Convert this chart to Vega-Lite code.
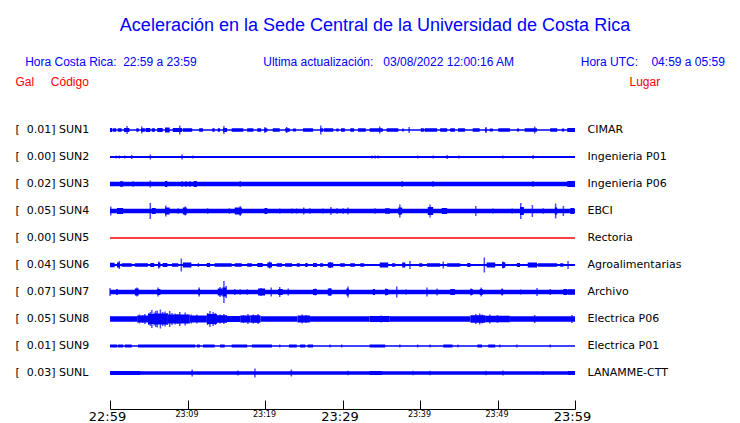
{
  "$schema": "https://vega.github.io/schema/vega-lite/v6.json",
  "width": 465,
  "height": 315,
  "autosize": {"type": "none"},
  "padding": {"left": 110, "top": 94, "right": 165, "bottom": 14},
  "background": "white",
  "config": {"view": {"stroke": null}, "font": "Liberation Sans"},
  "title": {
    "text": "Aceleración en la Sede Central de la Universidad de Costa Rica",
    "subtitle": "Hora Costa Rica:\u00a0\u00a022:59 a 23:59\u00a0\u00a0\u00a0\u00a0\u00a0\u00a0\u00a0\u00a0\u00a0\u00a0\u00a0\u00a0\u00a0\u00a0\u00a0\u00a0\u00a0\u00a0\u00a0\u00a0Ultima actualización:\u00a0\u00a0\u00a003/08/2022 12:00:16 AM\u00a0\u00a0\u00a0\u00a0\u00a0\u00a0\u00a0\u00a0\u00a0\u00a0\u00a0\u00a0\u00a0\u00a0\u00a0\u00a0\u00a0\u00a0\u00a0\u00a0Hora UTC:\u00a0\u00a0\u00a0\u00a004:59 a 05:59\u00a0\u00a0\u00a0\u00a0",
    "anchor": "middle",
    "frame": "group",
    "dx": 32.5,
    "offset": 7,
    "font": "Liberation Sans",
    "fontSize": 18,
    "fontWeight": "normal",
    "color": "#0000ff",
    "subtitleFont": "Liberation Sans",
    "subtitleFontSize": 12,
    "subtitleColor": "#0000ff",
    "subtitlePadding": 22
  },
  "datasets": {
    "bands": [
      {"s":"SUN1","t0":0,"t1":60,"a":1.5},{"s":"SUN1","t0":0,"t1":0.3,"a":4},{"s":"SUN1","t0":0.4,"t1":0.8,"a":3.5},{"s":"SUN1","t0":1.0,"t1":1.5,"a":3.5},{"s":"SUN1","t0":1.8,"t1":2.5,"a":4},{"s":"SUN1","t0":3.4,"t1":3.7,"a":3.5},{"s":"SUN1","t0":4.0,"t1":4.5,"a":3.5},{"s":"SUN1","t0":4.6,"t1":5.2,"a":4},{"s":"SUN1","t0":5.4,"t1":5.8,"a":3.5},{"s":"SUN1","t0":6.1,"t1":6.8,"a":4},{"s":"SUN1","t0":7.1,"t1":7.7,"a":5},{"s":"SUN1","t0":8.1,"t1":9.3,"a":4},{"s":"SUN1","t0":9.4,"t1":10.6,"a":3.5},{"s":"SUN1","t0":11.5,"t1":12.0,"a":3.5},{"s":"SUN1","t0":13.2,"t1":13.5,"a":3.5},{"s":"SUN1","t0":13.9,"t1":14.2,"a":3.5},{"s":"SUN1","t0":14.6,"t1":15.1,"a":4},{"s":"SUN1","t0":15.7,"t1":17.2,"a":3.5},{"s":"SUN1","t0":17.7,"t1":18.5,"a":3.5},{"s":"SUN1","t0":19.0,"t1":19.5,"a":3.5},{"s":"SUN1","t0":19.9,"t1":20.3,"a":3.5},{"s":"SUN1","t0":21.0,"t1":21.9,"a":3.5},{"s":"SUN1","t0":22.6,"t1":23.2,"a":3.5},{"s":"SUN1","t0":23.6,"t1":24.0,"a":3},{"s":"SUN1","t0":24.9,"t1":26.2,"a":3.5},{"s":"SUN1","t0":27.1,"t1":27.5,"a":3.5},{"s":"SUN1","t0":27.6,"t1":28.8,"a":3.5},{"s":"SUN1","t0":29.2,"t1":29.5,"a":3},{"s":"SUN1","t0":29.8,"t1":30.3,"a":3.5},{"s":"SUN1","t0":31.0,"t1":31.5,"a":3.5},{"s":"SUN1","t0":32.0,"t1":33.0,"a":3.5},{"s":"SUN1","t0":33.5,"t1":35.2,"a":3.5},{"s":"SUN1","t0":35.7,"t1":37.2,"a":3.5},{"s":"SUN1","t0":37.7,"t1":37.9,"a":3},{"s":"SUN1","t0":40.1,"t1":40.5,"a":3.5},{"s":"SUN1","t0":40.6,"t1":42.2,"a":3.5},{"s":"SUN1","t0":42.6,"t1":43.5,"a":3.5},{"s":"SUN1","t0":43.9,"t1":44.5,"a":3.5},{"s":"SUN1","t0":44.9,"t1":45.8,"a":3.5},{"s":"SUN1","t0":46.8,"t1":47.7,"a":3.5},{"s":"SUN1","t0":48.4,"t1":48.6,"a":3.5},{"s":"SUN1","t0":49.0,"t1":49.4,"a":3},{"s":"SUN1","t0":50.1,"t1":51.6,"a":3.5},{"s":"SUN1","t0":52.5,"t1":52.8,"a":3},{"s":"SUN1","t0":53.5,"t1":55.1,"a":3.5},{"s":"SUN1","t0":56.8,"t1":57.7,"a":3.5},{"s":"SUN1","t0":58.3,"t1":58.6,"a":3},{"s":"SUN1","t0":59.0,"t1":60,"a":4},
      {"s":"SUN2","t0":0,"t1":60,"a":2},
      {"s":"SUN3","t0":0,"t1":60,"a":4.5},{"s":"SUN3","t0":1.3,"t1":1.7,"a":5.5},{"s":"SUN3","t0":7.1,"t1":7.4,"a":6},{"s":"SUN3","t0":10.8,"t1":11.2,"a":6},{"s":"SUN3","t0":59.0,"t1":60,"a":6},
      {"s":"SUN4","t0":0,"t1":60,"a":4.5},{"s":"SUN4","t0":0.9,"t1":1.7,"a":6},{"s":"SUN4","t0":5.4,"t1":5.9,"a":6},{"s":"SUN4","t0":7.1,"t1":7.7,"a":7},{"s":"SUN4","t0":9.4,"t1":9.9,"a":7},{"s":"SUN4","t0":16.1,"t1":17.0,"a":7},{"s":"SUN4","t0":20.0,"t1":20.3,"a":6},{"s":"SUN4","t0":35.5,"t1":36.1,"a":5.5},{"s":"SUN4","t0":37.2,"t1":37.7,"a":7},{"s":"SUN4","t0":41.0,"t1":41.7,"a":8},{"s":"SUN4","t0":42.8,"t1":43.5,"a":6},{"s":"SUN4","t0":52.9,"t1":53.4,"a":8},{"s":"SUN4","t0":57.4,"t1":57.7,"a":7},{"s":"SUN4","t0":59.4,"t1":59.9,"a":6},
      {"s":"SUN5","t0":0,"t1":60,"a":1.5},
      {"s":"SUN6","t0":0,"t1":60,"a":2},{"s":"SUN6","t0":0,"t1":0.6,"a":4.5},{"s":"SUN6","t0":0.9,"t1":1.3,"a":5},{"s":"SUN6","t0":1.5,"t1":2.8,"a":3.5},{"s":"SUN6","t0":3.2,"t1":4.9,"a":3.5},{"s":"SUN6","t0":5.2,"t1":5.7,"a":4},{"s":"SUN6","t0":6.2,"t1":6.5,"a":5},{"s":"SUN6","t0":6.8,"t1":7.4,"a":4},{"s":"SUN6","t0":8.0,"t1":8.8,"a":3.5},{"s":"SUN6","t0":9.4,"t1":10.5,"a":5},{"s":"SUN6","t0":12.5,"t1":12.9,"a":4},{"s":"SUN6","t0":13.5,"t1":15.7,"a":3.5},{"s":"SUN6","t0":16.1,"t1":17.0,"a":3.5},{"s":"SUN6","t0":17.7,"t1":18.3,"a":3.5},{"s":"SUN6","t0":19.0,"t1":19.7,"a":4},{"s":"SUN6","t0":20.3,"t1":20.9,"a":5},{"s":"SUN6","t0":21.5,"t1":22.2,"a":3.5},{"s":"SUN6","t0":22.6,"t1":23.5,"a":3.5},{"s":"SUN6","t0":24.1,"t1":24.5,"a":3.5},{"s":"SUN6","t0":25.2,"t1":25.5,"a":4},{"s":"SUN6","t0":26.2,"t1":26.7,"a":4},{"s":"SUN6","t0":27.1,"t1":27.5,"a":3.5},{"s":"SUN6","t0":28.1,"t1":28.8,"a":5},{"s":"SUN6","t0":29.7,"t1":30.3,"a":3.5},{"s":"SUN6","t0":31.0,"t1":31.6,"a":3.5},{"s":"SUN6","t0":32.3,"t1":32.8,"a":3.5},{"s":"SUN6","t0":34.8,"t1":35.9,"a":5},{"s":"SUN6","t0":36.4,"t1":36.8,"a":3.5},{"s":"SUN6","t0":37.7,"t1":38.1,"a":5},{"s":"SUN6","t0":39.9,"t1":40.3,"a":3.5},{"s":"SUN6","t0":40.9,"t1":42.6,"a":3.5},{"s":"SUN6","t0":43.5,"t1":45.2,"a":3.5},{"s":"SUN6","t0":46.1,"t1":46.5,"a":4},{"s":"SUN6","t0":48.6,"t1":49.7,"a":5},{"s":"SUN6","t0":50.6,"t1":51.0,"a":5.5},{"s":"SUN6","t0":52.5,"t1":52.9,"a":4},{"s":"SUN6","t0":53.9,"t1":55.1,"a":5},{"s":"SUN6","t0":55.2,"t1":57.7,"a":3.5},{"s":"SUN6","t0":58.1,"t1":58.5,"a":3.5},
      {"s":"SUN7","t0":0,"t1":60,"a":4.5},{"s":"SUN7","t0":0.8,"t1":1.0,"a":6},{"s":"SUN7","t0":3.2,"t1":3.7,"a":7},{"s":"SUN7","t0":6.1,"t1":6.5,"a":6},{"s":"SUN7","t0":11.4,"t1":11.6,"a":6},{"s":"SUN7","t0":13.9,"t1":14.5,"a":7},{"s":"SUN7","t0":14.5,"t1":15.0,"a":9},{"s":"SUN7","t0":19.1,"t1":20.0,"a":7},{"s":"SUN7","t0":21.7,"t1":22.3,"a":6},{"s":"SUN7","t0":26.2,"t1":26.7,"a":6},{"s":"SUN7","t0":28.1,"t1":28.6,"a":7},{"s":"SUN7","t0":30.5,"t1":30.8,"a":7},{"s":"SUN7","t0":33.9,"t1":34.2,"a":6},{"s":"SUN7","t0":35.5,"t1":35.9,"a":6},{"s":"SUN7","t0":43.9,"t1":44.5,"a":6},{"s":"SUN7","t0":46.5,"t1":46.8,"a":6},{"s":"SUN7","t0":47.7,"t1":48.1,"a":6},{"s":"SUN7","t0":50.5,"t1":50.7,"a":6},{"s":"SUN7","t0":58.5,"t1":59.0,"a":6},{"s":"SUN7","t0":59.1,"t1":60,"a":5.5},
      {"s":"SUN8","t0":0,"t1":3.5,"a":5.5},{"s":"SUN8","t0":3.5,"t1":4.9,"a":7},{"s":"SUN8","t0":4.9,"t1":5.8,"a":10},{"s":"SUN8","t0":5.8,"t1":7.4,"a":11},{"s":"SUN8","t0":7.4,"t1":10.3,"a":9},{"s":"SUN8","t0":10.3,"t1":12.5,"a":7},{"s":"SUN8","t0":12.5,"t1":13.8,"a":10},{"s":"SUN8","t0":13.8,"t1":15.1,"a":7.5},{"s":"SUN8","t0":15.1,"t1":16.8,"a":6},{"s":"SUN8","t0":16.8,"t1":18.1,"a":7},{"s":"SUN8","t0":18.1,"t1":19.4,"a":7.5},{"s":"SUN8","t0":19.4,"t1":24.2,"a":5.5},{"s":"SUN8","t0":24.2,"t1":25.8,"a":7},{"s":"SUN8","t0":25.8,"t1":33.5,"a":5.5},{"s":"SUN8","t0":33.5,"t1":36.1,"a":6},{"s":"SUN8","t0":36.1,"t1":46.5,"a":5.5},{"s":"SUN8","t0":46.5,"t1":48.4,"a":7.5},{"s":"SUN8","t0":48.4,"t1":51.6,"a":6.5},{"s":"SUN8","t0":51.6,"t1":60,"a":5.5},
      {"s":"SUN9","t0":0,"t1":60,"a":1.5},{"s":"SUN9","t0":0,"t1":0.9,"a":3},{"s":"SUN9","t0":1.0,"t1":1.7,"a":3},{"s":"SUN9","t0":1.9,"t1":2.8,"a":3},{"s":"SUN9","t0":3.6,"t1":11.0,"a":3},{"s":"SUN9","t0":11.2,"t1":11.6,"a":3},{"s":"SUN9","t0":12.0,"t1":13.5,"a":3},{"s":"SUN9","t0":14.2,"t1":14.8,"a":3},{"s":"SUN9","t0":15.7,"t1":17.7,"a":3},{"s":"SUN9","t0":18.3,"t1":20.9,"a":3},{"s":"SUN9","t0":23.1,"t1":24.1,"a":3},{"s":"SUN9","t0":24.5,"t1":25.2,"a":3},{"s":"SUN9","t0":25.5,"t1":26.2,"a":3},{"s":"SUN9","t0":33.5,"t1":35.5,"a":3},{"s":"SUN9","t0":43.0,"t1":44.2,"a":3},{"s":"SUN9","t0":47.4,"t1":48.0,"a":3},{"s":"SUN9","t0":48.8,"t1":49.7,"a":3},
      {"s":"SUNL","t0":0,"t1":60,"a":3.5},{"s":"SUNL","t0":0,"t1":3.9,"a":4},{"s":"SUNL","t0":33.5,"t1":35.1,"a":4},{"s":"SUNL","t0":59.1,"t1":60,"a":4}
    ],
    "spikes": [
      {"s":"SUN1","t":2.2,"a":8},{"s":"SUN1","t":4.1,"a":7},{"s":"SUN1","t":9.0,"a":9},{"s":"SUN1","t":14.7,"a":8},{"s":"SUN1","t":20.0,"a":6},{"s":"SUN1","t":22.8,"a":6},{"s":"SUN1","t":27.2,"a":9},{"s":"SUN1","t":34.8,"a":7},{"s":"SUN1","t":38.6,"a":6},{"s":"SUN1","t":48.5,"a":6},{"s":"SUN1","t":54.8,"a":7},
      {"s":"SUN2","t":0.8,"a":3},{"s":"SUN2","t":1.2,"a":3},{"s":"SUN2","t":1.9,"a":3},{"s":"SUN2","t":2.8,"a":4},{"s":"SUN2","t":5.2,"a":5},{"s":"SUN2","t":9.3,"a":5},{"s":"SUN2","t":10.7,"a":3},{"s":"SUN2","t":33.8,"a":3},{"s":"SUN2","t":34.2,"a":3},{"s":"SUN2","t":34.6,"a":3},{"s":"SUN2","t":39.7,"a":3},{"s":"SUN2","t":41.7,"a":3},{"s":"SUN2","t":43.5,"a":4},{"s":"SUN2","t":45.0,"a":3},{"s":"SUN2","t":50.7,"a":3},{"s":"SUN2","t":54.6,"a":4},
      {"s":"SUN3","t":3.0,"a":5.5},{"s":"SUN3","t":5.2,"a":7},{"s":"SUN3","t":9.3,"a":6},{"s":"SUN3","t":9.8,"a":6},{"s":"SUN3","t":10.3,"a":6},{"s":"SUN3","t":16.8,"a":6},{"s":"SUN3","t":37.7,"a":6},{"s":"SUN3","t":41.7,"a":6},{"s":"SUN3","t":54.6,"a":6},
      {"s":"SUN4","t":0.1,"a":9},{"s":"SUN4","t":5.2,"a":16},{"s":"SUN4","t":7.2,"a":11},{"s":"SUN4","t":8.8,"a":5.5},{"s":"SUN4","t":9.7,"a":9},{"s":"SUN4","t":12.6,"a":5.5},{"s":"SUN4","t":15.4,"a":5.5},{"s":"SUN4","t":16.8,"a":10},{"s":"SUN4","t":20.0,"a":6},{"s":"SUN4","t":21.9,"a":5},{"s":"SUN4","t":23.5,"a":5},{"s":"SUN4","t":24.1,"a":5},{"s":"SUN4","t":25.0,"a":7},{"s":"SUN4","t":25.8,"a":5.5},{"s":"SUN4","t":27.5,"a":5},{"s":"SUN4","t":28.5,"a":8},{"s":"SUN4","t":29.3,"a":5.5},{"s":"SUN4","t":30.1,"a":5.5},{"s":"SUN4","t":30.7,"a":7},{"s":"SUN4","t":34.2,"a":5.5},{"s":"SUN4","t":37.4,"a":13},{"s":"SUN4","t":41.3,"a":13},{"s":"SUN4","t":47.2,"a":10},{"s":"SUN4","t":49.4,"a":5},{"s":"SUN4","t":51.9,"a":5},{"s":"SUN4","t":53.0,"a":16},{"s":"SUN4","t":54.5,"a":12},{"s":"SUN4","t":55.9,"a":5.5},{"s":"SUN4","t":57.5,"a":15},{"s":"SUN4","t":58.5,"a":10},
      {"s":"SUN6","t":1.2,"a":8},{"s":"SUN6","t":6.3,"a":7},{"s":"SUN6","t":9.2,"a":13},{"s":"SUN6","t":11.4,"a":4},{"s":"SUN6","t":20.6,"a":7},{"s":"SUN6","t":28.4,"a":6},{"s":"SUN6","t":38.7,"a":8},{"s":"SUN6","t":43.0,"a":7},{"s":"SUN6","t":48.3,"a":15},{"s":"SUN6","t":50.7,"a":7},{"s":"SUN6","t":59.1,"a":8},
      {"s":"SUN7","t":0,"a":8},{"s":"SUN7","t":3.5,"a":9},{"s":"SUN7","t":6.2,"a":9},{"s":"SUN7","t":11.5,"a":9},{"s":"SUN7","t":14.2,"a":10},{"s":"SUN7","t":14.7,"a":22},{"s":"SUN7","t":15.0,"a":12},{"s":"SUN7","t":16.1,"a":6},{"s":"SUN7","t":16.8,"a":5.5},{"s":"SUN7","t":17.7,"a":5.5},{"s":"SUN7","t":19.5,"a":8},{"s":"SUN7","t":20.8,"a":9},{"s":"SUN7","t":21.9,"a":10},{"s":"SUN7","t":23.0,"a":7},{"s":"SUN7","t":26.5,"a":7},{"s":"SUN7","t":28.4,"a":8},{"s":"SUN7","t":30.7,"a":11},{"s":"SUN7","t":35.6,"a":7},{"s":"SUN7","t":37.0,"a":11},{"s":"SUN7","t":38.2,"a":5},{"s":"SUN7","t":40.9,"a":9},{"s":"SUN7","t":42.2,"a":7},{"s":"SUN7","t":46.6,"a":7},{"s":"SUN7","t":47.9,"a":9},{"s":"SUN7","t":50.6,"a":7},{"s":"SUN7","t":53.0,"a":5},{"s":"SUN7","t":55.1,"a":8},{"s":"SUN7","t":56.8,"a":6},
      {"s":"SUN8","t":3.8,"a":9},{"s":"SUN8","t":4.2,"a":8},{"s":"SUN8","t":4.5,"a":10},{"s":"SUN8","t":5.0,"a":12},{"s":"SUN8","t":5.2,"a":14},{"s":"SUN8","t":5.4,"a":18},{"s":"SUN8","t":5.7,"a":13},{"s":"SUN8","t":5.9,"a":16},{"s":"SUN8","t":6.1,"a":17},{"s":"SUN8","t":6.5,"a":19},{"s":"SUN8","t":6.8,"a":14},{"s":"SUN8","t":7.1,"a":15},{"s":"SUN8","t":7.4,"a":12},{"s":"SUN8","t":7.7,"a":16},{"s":"SUN8","t":8.0,"a":12},{"s":"SUN8","t":8.4,"a":11},{"s":"SUN8","t":8.7,"a":10},{"s":"SUN8","t":9.0,"a":14},{"s":"SUN8","t":9.7,"a":13},{"s":"SUN8","t":10.0,"a":9},{"s":"SUN8","t":10.5,"a":9},{"s":"SUN8","t":11.2,"a":9},{"s":"SUN8","t":12.6,"a":12},{"s":"SUN8","t":12.9,"a":16},{"s":"SUN8","t":13.3,"a":14},{"s":"SUN8","t":13.6,"a":12},{"s":"SUN8","t":14.2,"a":9},{"s":"SUN8","t":14.7,"a":10},{"s":"SUN8","t":17.2,"a":8},{"s":"SUN8","t":17.8,"a":10},{"s":"SUN8","t":18.5,"a":9},{"s":"SUN8","t":19.1,"a":10},{"s":"SUN8","t":24.8,"a":9},{"s":"SUN8","t":25.3,"a":8},{"s":"SUN8","t":35.0,"a":7},{"s":"SUN8","t":47.2,"a":10},{"s":"SUN8","t":47.7,"a":11},{"s":"SUN8","t":48.0,"a":9},{"s":"SUN8","t":49.0,"a":9},{"s":"SUN8","t":50.0,"a":8},{"s":"SUN8","t":54.8,"a":8},{"s":"SUN8","t":59.6,"a":8},
      {"s":"SUN9","t":21.9,"a":3},{"s":"SUN9","t":28.4,"a":3},{"s":"SUN9","t":29.9,"a":3},{"s":"SUN9","t":37.4,"a":3},{"s":"SUN9","t":39.7,"a":3},{"s":"SUN9","t":41.3,"a":3},{"s":"SUN9","t":44.9,"a":3},{"s":"SUN9","t":50.3,"a":3},{"s":"SUN9","t":52.5,"a":3},{"s":"SUN9","t":56.8,"a":3},
      {"s":"SUNL","t":10.6,"a":7},{"s":"SUNL","t":16.5,"a":5},{"s":"SUNL","t":18.7,"a":9},{"s":"SUNL","t":23.4,"a":7},{"s":"SUNL","t":30.7,"a":4.5},{"s":"SUNL","t":39.1,"a":4.5},{"s":"SUNL","t":41.3,"a":4.5},{"s":"SUNL","t":48.5,"a":4.5},{"s":"SUNL","t":50.7,"a":5},{"s":"SUNL","t":55.9,"a":4}
    ]
  },
  "layer": [
    {
      "data": {"name": "bands"},
      "mark": {"type": "bar"},
      "encoding": {
        "x": {
          "field": "t0", "type": "quantitative",
          "scale": {"domain": [0, 60], "nice": false, "zero": false},
          "axis": {
            "title": null, "grid": false,
            "values": [0, 5, 10, 15, 20, 25, 30, 35, 40, 45, 50, 55, 60],
            "domain": true, "domainColor": "black", "domainWidth": 1,
            "ticks": true, "tickSize": -9, "tickColor": "black", "tickWidth": 1,
            "labelExpr": "datum.value % 10 != 0 ? '' : floor((1379 + datum.value) / 60) + ':' + ((1379 + datum.value) % 60 < 10 ? '0' : '') + ((1379 + datum.value) % 60)",
            "labelFont": "DejaVu Sans",
            "labelFontSize": {"condition": {"test": "datum.value % 30 == 0", "value": 13}, "value": 8},
            "labelOffset": {"condition": {"test": "datum.value % 30 == 0", "value": -3}, "value": -1},
            "labelColor": "black", "labelPadding": 10, "labelBaseline": "top",
            "labelOverlap": false, "labelFlush": false, "labelBound": false
          }
        },
        "x2": {"field": "t1"},
        "y": {
          "field": "s", "type": "nominal",
          "scale": {"type": "band", "domain": ["SUN1","SUN2","SUN3","SUN4","SUN5","SUN6","SUN7","SUN8","SUN9","SUNL"], "paddingInner": 0, "paddingOuter": 0.8333},
          "axis": {
            "orient": "left", "domain": false, "ticks": false, "tickSize": 0, "grid": false,
            "labelAlign": "left", "labelPadding": 95, "labelFont": "DejaVu Sans", "labelFontSize": 11, "labelColor": "black",
            "labelExpr": "'[\u00a0\u00a0' + {'SUN1':'0.01','SUN2':'0.00','SUN3':'0.02','SUN4':'0.05','SUN5':'0.00','SUN6':'0.04','SUN7':'0.07','SUN8':'0.05','SUN9':'0.01','SUNL':'0.03'}[datum.value] + '] ' + datum.value",
            "title": "Gal\u00a0\u00a0\u00a0\u00a0\u00a0Código", "titleAngle": 0, "titleAlign": "left", "titleBaseline": "middle",
            "titleX": -95, "titleY": -13, "titleColor": "#ff0000", "titleFont": "Liberation Sans", "titleFontSize": 12, "titleFontWeight": "normal"
          }
        },
        "size": {"field": "a", "type": "quantitative", "scale": {"domain": [0, 30], "range": [0, 30]}, "legend": null},
        "color": {
          "field": "s", "type": "nominal", "legend": null,
          "scale": {"domain": ["SUN1","SUN2","SUN3","SUN4","SUN5","SUN6","SUN7","SUN8","SUN9","SUNL"], "range": ["#0000ff","#0000ff","#0000ff","#0000ff","#ff0000","#0000ff","#0000ff","#0000ff","#0000ff","#0000ff"]}
        }
      }
    },
    {
      "data": {"name": "spikes"},
      "mark": {"type": "tick", "orient": "vertical", "thickness": 1.5},
      "encoding": {
        "x": {"field": "t", "type": "quantitative", "scale": {"domain": [0, 60], "nice": false, "zero": false}},
        "y": {
          "field": "s", "type": "nominal",
          "scale": {"type": "band", "domain": ["SUN1","SUN2","SUN3","SUN4","SUN5","SUN6","SUN7","SUN8","SUN9","SUNL"], "paddingInner": 0, "paddingOuter": 0.8333},
          "axis": {
            "orient": "right", "domain": false, "ticks": false, "tickSize": 0, "grid": false,
            "labelPadding": 12, "labelFont": "DejaVu Sans", "labelFontSize": 11, "labelColor": "black",
            "labelExpr": "{'SUN1':'CIMAR','SUN2':'Ingenieria P01','SUN3':'Ingenieria P06','SUN4':'EBCI','SUN5':'Rectoria','SUN6':'Agroalimentarias','SUN7':'Archivo','SUN8':'Electrica P06','SUN9':'Electrica P01','SUNL':'LANAMME-CTT'}[datum.value]",
            "title": "Lugar", "titleAngle": 0, "titleAlign": "left", "titleBaseline": "middle",
            "titleX": 54, "titleY": -13, "titleColor": "#ff0000", "titleFont": "Liberation Sans", "titleFontSize": 12, "titleFontWeight": "normal"
          }
        },
        "size": {"field": "a", "type": "quantitative", "scale": {"domain": [0, 30], "range": [0, 30]}, "legend": null},
        "color": {
          "field": "s", "type": "nominal", "legend": null,
          "scale": {"domain": ["SUN1","SUN2","SUN3","SUN4","SUN5","SUN6","SUN7","SUN8","SUN9","SUNL"], "range": ["#0000ff","#0000ff","#0000ff","#0000ff","#ff0000","#0000ff","#0000ff","#0000ff","#0000ff","#0000ff"]}
        }
      }
    }
  ],
  "resolve": {"axis": {"y": "independent"}}
}
